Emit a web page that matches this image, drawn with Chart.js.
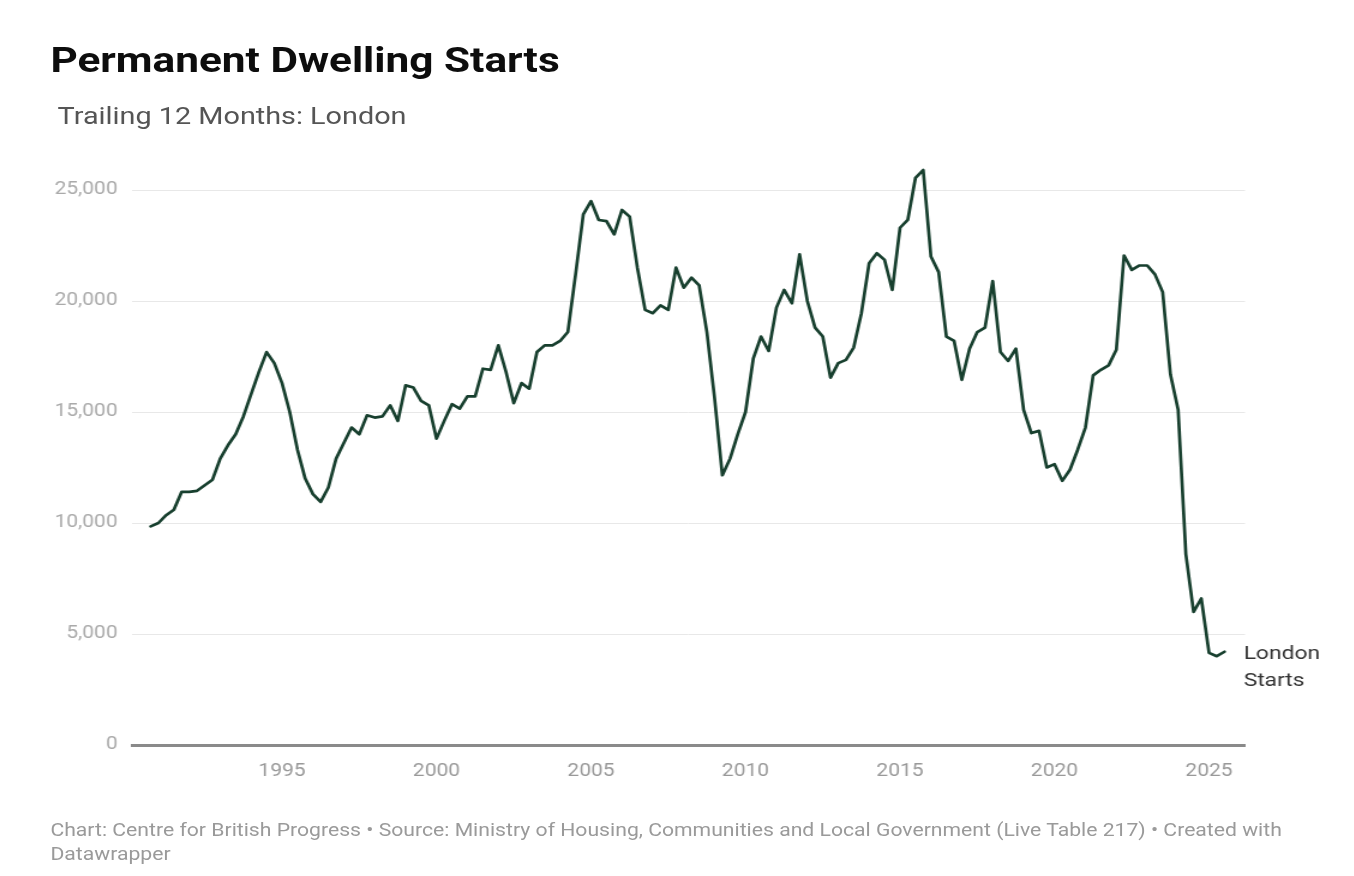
<!DOCTYPE html>
<html>
<head>
<meta charset="utf-8">
<title>Permanent Dwelling Starts</title>
<script src="https://cdn.jsdelivr.net/npm/chart.js@4.4.1/dist/chart.umd.min.js"></script>
<style>
  html, body { margin: 0; padding: 0; background: #fff; }
  body { width: 1354px; height: 876px; position: relative; overflow: hidden; font-family: Roboto, "Noto Sans", sans-serif; }
  /* the reference picture is stretched sideways, so the whole page is drawn narrow and widened */
  #page { position: absolute; left: 0; top: 0; width: 1128px; height: 876px; transform: scaleX(1.2); transform-origin: 0 0; }
  #startsChart { position: absolute; left: 0; top: 0; }
  .title { position: absolute; left: 42px; top: 43px; font-size: 35.3px; line-height: 1; font-weight: 700; color: #0d0d0d; white-space: nowrap; }
  .subtitle { position: absolute; left: 48px; top: 104px; font-size: 24px; line-height: 1; color: #555; white-space: nowrap; }
  .footer { position: absolute; left: 42px; top: 819px; width: 1060px; font-size: 17.65px; line-height: 23.5px; color: #9a9a9a; }
</style>
</head>
<body>
<div id="page">
  <canvas id="startsChart" width="1128" height="876"></canvas>
  <div class="title">Permanent Dwelling Starts</div>
  <div class="subtitle">Trailing 12 Months: London</div>
  <div class="footer">Chart: Centre for British Progress • Source: Ministry of Housing, Communities and Local Government (Live Table 217) • Created with Datawrapper</div>
</div>

<script>
// first quarter in the series, then one value per quarter (trailing 12 months)
const firstYear = 1990;
const firstQuarter = 3;
const londonStarts = [
  9850, 10000, 10350, 10600, 11400, 11400, 11450, 11700, 11950, 12900,
  13500, 14000, 14800, 15800, 16800, 17700, 17200, 16300, 15000, 13300,
  12000, 11300, 10950, 11600, 12900, 13600, 14300, 14000, 14850, 14750,
  14800, 15300, 14600, 16200, 16100, 15500, 15300, 13800, 14600, 15350,
  15150, 15700, 15700, 16950, 16900, 18000, 16800, 15400, 16300, 16050,
  17700, 18000, 18000, 18200, 18600, 21200, 23900, 24500, 23650, 23600,
  23000, 24100, 23800, 21500, 19600, 19450, 19800, 19600, 21500, 20600,
  21050, 20700, 18600, 15600, 12150, 12900, 14000, 15000, 17400, 18400,
  17750, 19700, 20500, 19900, 22100, 20000, 18800, 18400, 16550, 17200,
  17350, 17900, 19450, 21700, 22150, 21850, 20500, 23300, 23650, 25550,
  25900, 22000, 21300, 18400, 18200, 16450, 17850, 18600, 18800, 20900,
  17700, 17300, 17850, 15100, 14050, 14150, 12500, 12650, 11900, 12400,
  13300, 14300, 16650, 16900, 17100, 17800, 22050, 21400, 21600, 21600,
  21200, 20400, 16700, 15100, 8600, 6000, 6600, 4150, 4000, 4200
];
const yearTicks = [1995, 2000, 2005, 2010, 2015, 2020, 2025];
const valueTicks = [0, 5000, 10000, 15000, 20000, 25000];
const seriesName = ['London', 'Starts'];

// quarter end as decimal year
const points = londonStarts.map((v, i) => {
  const q = firstQuarter - 1 + i;
  return { x: firstYear + Math.floor(q / 4) + ((q % 4) + 1) / 4, y: v };
});

const endLabel = {
  id: 'endLabel',
  afterDatasetsDraw(chart) {
    const meta = chart.getDatasetMeta(0);
    const last = meta.data[meta.data.length - 1];
    const ctx = chart.ctx;
    ctx.save();
    ctx.font = '19px Roboto';
    ctx.fillStyle = '#333';
    ctx.textBaseline = 'middle';
    seriesName.forEach((t, i) => ctx.fillText(t, last.x + 16, last.y + 2 + i * 27));
    ctx.restore();
  }
};

new Chart(document.getElementById('startsChart'), {
  type: 'line',
  data: {
    datasets: [{
      label: seriesName.join(' '),
      data: points,
      borderColor: '#173f2e',
      borderWidth: 2.7,
      borderJoinStyle: 'round',
      borderCapStyle: 'round',
      pointRadius: 0,
      tension: 0,
      fill: false
    }]
  },
  options: {
    responsive: false,
    animation: false,
    devicePixelRatio: 1,
    layout: { padding: { left: 0, right: 90.5, top: 145.6, bottom: 91 } },
    plugins: { legend: { display: false }, tooltip: { enabled: false } },
    scales: {
      x: {
        type: 'linear',
        min: 1990.146,
        max: 2026.165,
        afterBuildTicks: axis => { axis.ticks = yearTicks.map(v => ({ value: v })); },
        afterFit: axis => { axis.height = 40; },
        grid: { display: false, drawTicks: false },
        border: { display: true, color: '#8a8a8a', width: 3 },
        ticks: {
          padding: 16,
          color: '#999',
          font: { family: 'Roboto', size: 17.5 },
          maxRotation: 0,
          callback: v => String(v)
        }
      },
      y: {
        min: 0,
        max: 27000,
        afterBuildTicks: axis => { axis.ticks = valueTicks.map(v => ({ value: v })); },
        afterFit: axis => { axis.width = 110; },
        grid: { color: '#e8e8e8', lineWidth: 1, drawTicks: false },
        border: { display: false },
        ticks: {
          padding: 12,
          color: '#aaa',
          font: { family: 'Roboto', size: 17.5 },
          callback: v => v.toLocaleString('en-US')
        }
      }
    }
  },
  plugins: [endLabel]
});
</script>
</body>
</html>
